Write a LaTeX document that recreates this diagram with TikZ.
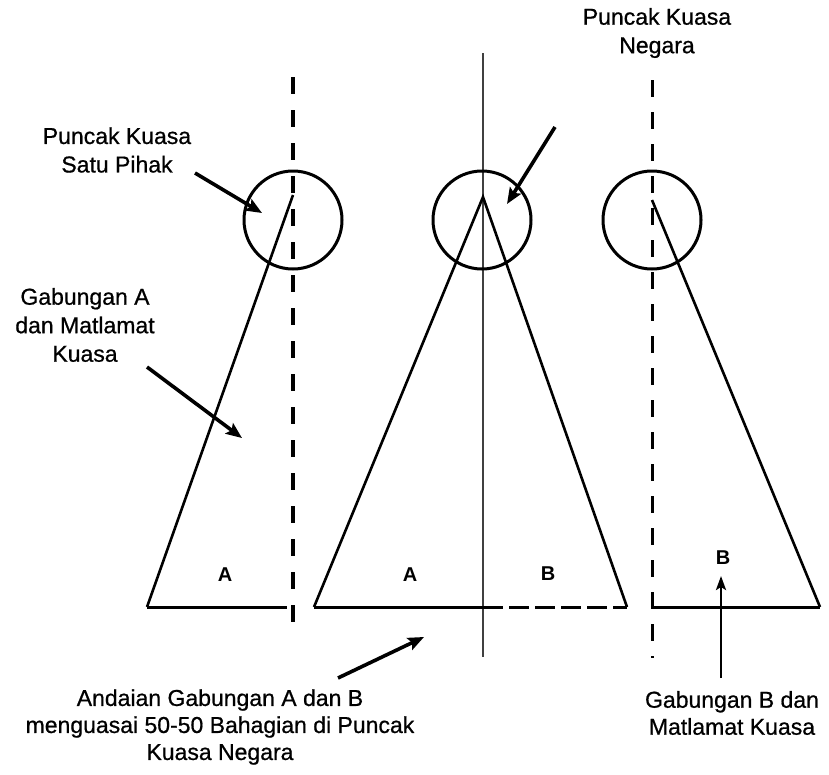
\documentclass[tikz,border=0pt]{standalone}
\usepackage{fontspec}
\setmainfont{Liberation Sans}
\newfontfamily\lblfont[FakeBold=0.7]{Liberation Sans}
\usetikzlibrary{arrows.meta}
\begin{document}
\begin{tikzpicture}[x=1pt,y=-1pt,
  lbl/.style={font=\lblfont\fontsize{23}{28.5}\selectfont, align=center, inner sep=0pt},
  letter/.style={font=\fontsize{20}{20}\selectfont\bfseries, inner sep=0pt},
  dashv/.style={line width=4pt, dash pattern=on 17pt off 16pt},
  dashr/.style={line width=3pt, dash pattern=on 17pt off 15pt},
  thinv/.style={line width=1.6pt, black!75},
  ring/.style={line width=3pt, circle, minimum size=98pt, inner sep=0pt, draw},
  side/.style={line width=2.6pt},
  base/.style={line width=3pt},
  pointer/.style={line width=3.6pt, -{Stealth[length=16pt,width=13pt,inset=3pt]}},
  pointerthin/.style={line width=2.6pt, -{Stealth[length=14pt,width=10pt,inset=3pt]}}
]
\useasboundingbox[fill=white] (0,0) rectangle (829,774);

% ---------- left figure ----------
\coordinate (lt) at (293,77);
\coordinate (lb) at (293,635);
\coordinate (lapex) at (293,195);
\coordinate (lbl1) at (147,607);
\coordinate (lbr) at (287,607);
\draw[dashv] (lt) -- (lb);
\node[ring] (lc) at (293,220) {};
\draw[side] (lapex) -- (lbl1);
\draw[base] (lbl1) -- (lbr);

% ---------- middle figure ----------
\coordinate (mt) at (483,53);
\coordinate (mb) at (483,657);
\coordinate (mapex) at (483,197);
\coordinate (mbl) at (314,607);
\coordinate (mbm) at (483,607);
\coordinate (mbr) at (627,607);
\draw[thinv] (mt) -- (mb);
\node[ring] (mc) at (482,220) {};
\draw[side] (mbl) -- (mapex) -- (mbr);
\draw[base] (mbl) -- (mbm);
\draw[base, dash pattern=on 20pt off 6pt] (mbm) -- (mbr);

% ---------- right figure ----------
\coordinate (rt) at (652,80);
\coordinate (rb) at (652,658);
\coordinate (rapex) at (652,200);
\coordinate (rbl) at (652,607);
\coordinate (rbr) at (820,607);
\draw[dashr] (rt) -- (rb);
\node[ring] (rc) at (652,220) {};
\draw[side] (rapex) -- (rbr);
\draw[base] (rbl) -- (rbr);

% ---------- letters ----------
\node[letter] (la) at (225,575) {A};
\node[letter] (ma) at (410,575) {A};
\node[letter] (mbB) at (548,574) {B};
\node[letter] (rB) at (723,558) {B};

% ---------- labels ----------
\node[lbl] (t1) at (117,150) {Puncak Kuasa\\Satu Pihak};
\node[lbl] (t2) at (657,33) {Puncak Kuasa\\Negara};
\node[lbl] (t3) at (85,325) {Gabungan A\\dan Matlamat\\Kuasa};
\node[lbl, font=\lblfont\fontsize{23}{27}\selectfont] (t4) at (220,727) {Andaian Gabungan A dan B\\menguasai 50-50 Bahagian di Puncak\\Kuasa Negara};
\node[lbl, font=\lblfont\fontsize{23}{27}\selectfont] (t5) at (732,713) {Gabungan B dan\\Matlamat Kuasa};

% ---------- arrows ----------
\coordinate (a1s) at (195,173); \coordinate (a1e) at (262,213);
\coordinate (a2s) at (555,127); \coordinate (a2e) at (507,204);
\coordinate (a3s) at (147,367); \coordinate (a3e) at (242,438);
\coordinate (a4s) at (338,678); \coordinate (a4e) at (424,637);
\coordinate (a5s) at (721,678); \coordinate (a5e) at (721,576);
\draw[pointer] (a1s) -- (a1e);
\draw[pointer] (a2s) -- (a2e);
\draw[pointer] (a3s) -- (a3e);
\draw[pointer] (a4s) -- (a4e);
\draw[pointerthin] (a5s) -- (a5e);
\end{tikzpicture}
\end{document}
